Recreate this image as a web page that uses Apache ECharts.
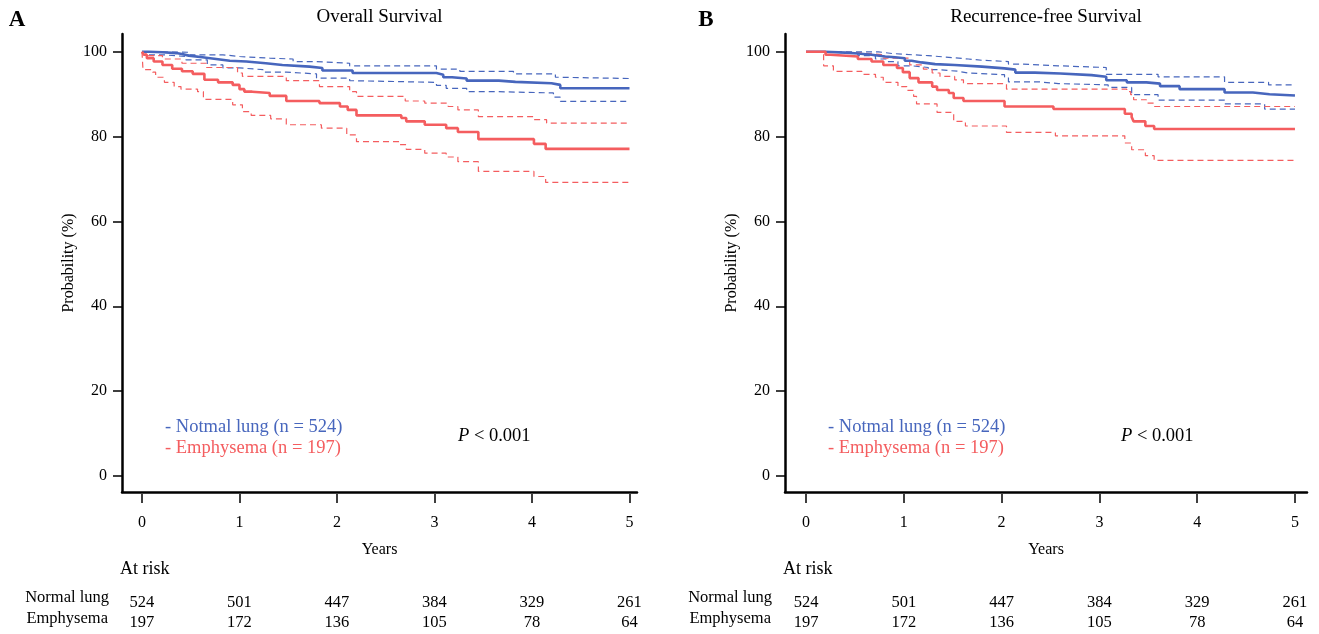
<!DOCTYPE html>
<html>
<head>
<meta charset="utf-8">
<script src="https://cdn.jsdelivr.net/npm/echarts@6/dist/echarts.min.js"></script>
<style>
  html, body { margin: 0; padding: 0; background: #fff; }
  #main { width: 1319px; height: 634px; }
</style>
</head>
<body>
<div id="main"></div>
<script>
const FONT = 'Liberation Serif'
const BLUE = '#4766bd'
const RED = '#f45d5f'

const years = [0, 1, 2, 3, 4, 5]
const yTicks = [0, 20, 40, 60, 80, 100]
const riskNormal = [524, 501, 447, 384, 329, 261]
const riskEmph = [197, 172, 136, 105, 78, 64]
const groupNames = ['Notmal lung', 'Emphysema']
const groupN = [524, 197]
const panelTitles = ['Overall Survival', 'Recurrence-free Survival']
const panelLetters = ['A', 'B']

// overall survival, [years, %]
const osNormal = [[0,100],[0.07,99.9],[0.21,99.7],[0.35,99.5],[0.41,99.1],[0.48,98.7],[0.62,98.3],[0.76,97.9],[0.9,97.7],[1.07,97.3],[1.27,96.9],[1.44,96.5],[1.72,96.2],[1.85,95.6],[2.16,95.0],[3.02,94.6],[3.09,94.0],[3.18,93.7],[3.33,93.2],[3.66,92.9],[3.83,92.6],[4.2,92.2],[4.29,91.4],[5,91.4]]
const osNormalHi = [[0,100],[0.07,99.9],[0.48,99.3],[0.83,98.9],[1.0,98.5],[1.31,98.3],[1.55,97.7],[1.79,97.3],[2.13,96.7],[3.02,95.9],[3.26,95.4],[3.81,94.8],[4.24,94.0],[4.29,93.7],[5,93.7]]
const osNormalLo = [[0,100],[0.07,99.3],[0.21,98.9],[0.45,98.1],[0.67,96.9],[0.83,96.2],[1.0,95.8],[1.24,95.2],[1.48,94.8],[1.79,93.8],[2.13,93.2],[2.15,92.8],[3.02,92.1],[3.12,91.4],[3.33,90.6],[3.66,90.3],[4.22,89.3],[4.29,88.3],[5,88.3]]
const osEmph = [[0,100],[0.02,99.3],[0.05,98.5],[0.12,97.7],[0.21,96.9],[0.31,96.0],[0.41,95.4],[0.52,94.8],[0.64,93.4],[0.78,92.8],[0.93,92.2],[1.0,91.2],[1.05,90.6],[1.13,90.3],[1.31,89.6],[1.48,88.4],[1.82,87.9],[2.03,87.1],[2.11,86.3],[2.2,85.0],[2.66,84.4],[2.71,83.6],[2.9,82.8],[3.12,82.0],[3.24,81.1],[3.45,79.4],[4.02,78.3],[4.14,77.1],[5,77.1]]
const osEmphHi = [[0,100],[0.04,99.1],[0.21,98.3],[0.41,97.3],[0.66,96.3],[0.98,95.0],[1.03,94.2],[1.48,93.2],[1.82,91.8],[2.13,90.6],[2.2,89.5],[2.7,88.4],[2.9,87.9],[3.14,87.1],[3.24,86.3],[3.45,84.7],[4.02,84.0],[4.15,83.2],[5,83.2]]
const osEmphLo = [[0,100],[0.01,95.8],[0.11,95.2],[0.14,94.0],[0.23,92.8],[0.33,91.8],[0.4,91.2],[0.57,90.6],[0.63,88.8],[0.93,87.5],[1.03,85.9],[1.12,85.0],[1.32,84.2],[1.48,82.8],[1.84,82.0],[2.1,80.4],[2.2,78.8],[2.64,78.1],[2.71,77.0],[2.9,76.1],[3.12,75.2],[3.24,74.1],[3.45,71.8],[4.02,70.6],[4.14,69.2],[5,69.2]]

// recurrence-free survival
const rfsNormal = [[0,100],[0.19,99.8],[0.4,99.6],[0.53,99.3],[0.67,98.9],[0.81,98.7],[0.91,98.5],[1.01,97.9],[1.08,97.5],[1.18,97.1],[1.32,96.9],[1.52,96.5],[1.8,96.1],[2.03,95.8],[2.14,95.1],[2.34,94.9],[2.6,94.5],[2.92,94.1],[3.07,93.3],[3.28,92.8],[3.48,92.5],[3.62,91.9],[3.82,91.2],[4.28,90.4],[4.57,90.0],[4.74,89.7],[5,89.7]]
const rfsNormalHi = [[0,100],[0.74,99.6],[0.88,99.4],[1.01,99.1],[1.25,98.7],[1.46,98.3],[1.66,98.0],[1.8,97.7],[2.07,97.1],[2.2,96.7],[2.58,96.3],[3.07,94.7],[3.6,94.1],[4.28,92.8],[4.73,92.2],[5,92.2]]
const rfsNormalLo = [[0,100],[0.23,99.6],[0.53,99.1],[0.71,98.3],[0.83,97.7],[0.94,96.7],[1.08,96.3],[1.25,95.8],[1.35,95.4],[1.56,95.0],[1.66,94.6],[2.03,94.1],[2.07,92.9],[2.39,92.5],[2.58,92.2],[3.09,91.6],[3.33,89.9],[3.6,88.6],[4.28,87.7],[4.69,86.5],[5,86.5]]
const rfsEmph = [[0,100],[0.2,99.3],[0.25,98.9],[0.53,98.3],[0.67,97.7],[0.79,96.9],[0.93,96.2],[0.99,95.2],[1.06,93.8],[1.15,92.8],[1.29,91.8],[1.34,91.0],[1.46,90.3],[1.51,89.1],[1.61,88.4],[2.03,87.1],[2.53,86.5],[3.26,85.4],[3.33,84.6],[3.35,83.6],[3.47,82.5],[3.56,81.8],[5,81.8]]
const rfsEmphHi = [[0,100],[0.26,99.7],[0.59,99.3],[0.79,98.5],[1.06,96.9],[1.2,95.9],[1.29,95.0],[1.37,94.2],[1.52,93.4],[1.61,92.5],[2.05,91.2],[3.28,90.6],[3.32,89.9],[3.35,88.7],[3.48,87.9],[3.56,87.1],[5,87.1]]
const rfsEmphLo = [[0,100],[0.18,96.7],[0.28,95.4],[0.57,94.7],[0.71,94.0],[0.79,92.8],[0.94,91.8],[1.03,90.9],[1.1,89.5],[1.13,87.7],[1.34,85.7],[1.51,83.6],[1.63,82.5],[2.05,81.0],[2.55,80.2],[3.26,78.5],[3.33,76.9],[3.47,75.5],[3.56,74.4],[5,74.4]]

const chart = echarts.init(document.getElementById('main'), null, { renderer: 'canvas' })

// panel geometry (px)
const panels = [
  { left: 122, width: 515, xMin: -0.205, xMax: 5.077, curves: [osNormalHi, osNormalLo, osEmphHi, osEmphLo, osNormal, osEmph] },
  { left: 785, width: 522, xMin: -0.215, xMax: 5.123, curves: [rfsNormalHi, rfsNormalLo, rfsEmphHi, rfsEmphLo, rfsNormal, rfsEmph] }
]
const gridTop = 34
const gridHeight = 458
const yMin = -3.8
const yMax = 104.2

const txt = { fontFamily: FONT, fontSize: 16, color: '#000' }
const riskTxt = { fontFamily: FONT, fontSize: 16.5, color: '#000' }

const grids = []
const xAxes = []
const yAxes = []
const series = []

panels.forEach((p, gi) => {
  grids.push({ left: p.left, top: gridTop, width: p.width, height: gridHeight })
  const base = { type: 'value', gridIndex: gi, min: p.xMin, max: p.xMax, position: 'bottom', splitLine: { show: false } }
  // main axis line
  xAxes.push(Object.assign({}, base, {
    axisLine: { show: true, onZero: false, lineStyle: { color: '#000', width: 2.5 } },
    axisTick: { show: false },
    axisLabel: { show: false },
    name: 'Years', nameLocation: 'middle', nameGap: 50,
    nameTextStyle: Object.assign({}, txt)
  }))
  // ticks + labels sit just under the line
  xAxes.push(Object.assign({}, base, {
    offset: 2,
    axisLine: { show: false, onZero: false },
    axisTick: { show: true, length: 9, customValues: years, lineStyle: { color: '#000', width: 1.5 } },
    axisLabel: Object.assign({ customValues: years, margin: 21 }, txt)
  }))
  // at-risk rows
  ;[riskNormal, riskEmph].forEach((risk, ri) => {
    xAxes.push(Object.assign({}, base, {
      offset: 102 + ri * 20,
      axisLine: { show: false, onZero: false },
      axisTick: { show: false },
      axisLabel: Object.assign({
        customValues: years, margin: 0,
        formatter: v => String(risk[years.indexOf(Math.round(v))])
      }, riskTxt)
    }))
  })
  yAxes.push({
    type: 'value', gridIndex: gi, min: yMin, max: yMax,
    splitLine: { show: false },
    axisLine: { show: true, onZero: false, lineStyle: { color: '#000', width: 2.5 } },
    axisTick: { show: true, length: 9, customValues: yTicks, lineStyle: { color: '#000', width: 1.5 } },
    axisLabel: Object.assign({ customValues: yTicks, margin: 15 }, txt),
    name: 'Probability (%)', nameLocation: 'middle', nameGap: 45, nameRotate: 90,
    nameTextStyle: Object.assign({}, txt)
  })
  const colors = [BLUE, BLUE, RED, RED, BLUE, RED]
  p.curves.forEach((d, ci) => {
    const dashed = ci < 4
    series.push({
      type: 'line', step: 'end', data: d,
      xAxisIndex: gi * 4, yAxisIndex: gi,
      symbol: 'none', silent: true, z: dashed ? 2 : 3,
      lineStyle: { color: colors[ci], width: dashed ? 1.2 : 2.6, type: dashed ? [6, 4] : 'solid' }
    })
  })
})

const graphics = []
const letterX = [17, 706]
panels.forEach((p, gi) => {
  const cx = p.left + p.width / 2
  graphics.push(
    { type: 'text', x: letterX[gi], y: 20, style: { text: panelLetters[gi], font: 'bold 23px ' + FONT, fill: '#000', align: 'center', verticalAlign: 'middle' } },
    { type: 'text', x: cx, y: 17, style: { text: panelTitles[gi], font: '19px ' + FONT, fill: '#000', align: 'center', verticalAlign: 'middle' } },
    { type: 'text', x: p.left - 2, y: 569, style: { text: 'At risk', font: '18px ' + FONT, fill: '#000', align: 'left', verticalAlign: 'middle' } },
    { type: 'text', x: p.left - 13, y: 598, style: { text: 'Normal lung', font: '16.5px ' + FONT, fill: '#000', align: 'right', verticalAlign: 'middle' } },
    { type: 'text', x: p.left - 14, y: 619, style: { text: 'Emphysema', font: '16.5px ' + FONT, fill: '#000', align: 'right', verticalAlign: 'middle' } },
    { type: 'text', x: p.left + 43, y: 427, style: { text: '- ' + groupNames[0] + ' (n = ' + groupN[0] + ')', font: '18.5px ' + FONT, fill: BLUE, align: 'left', verticalAlign: 'middle' } },
    { type: 'text', x: p.left + 43, y: 448, style: { text: '- ' + groupNames[1] + ' (n = ' + groupN[1] + ')', font: '18.5px ' + FONT, fill: RED, align: 'left', verticalAlign: 'middle' } },
    { type: 'text', x: p.left + 336, y: 436, style: {
      text: '{i|P} < 0.001', font: '18.5px ' + FONT, fill: '#000', align: 'left', verticalAlign: 'middle',
      rich: { i: { fontStyle: 'italic', fontFamily: FONT, fontSize: 18.5 } }
    } }
  )
})

chart.setOption({
  animation: false,
  backgroundColor: '#fff',
  grid: grids,
  xAxis: xAxes,
  yAxis: yAxes,
  series: series,
  graphic: graphics
})
</script>
</body>
</html>
